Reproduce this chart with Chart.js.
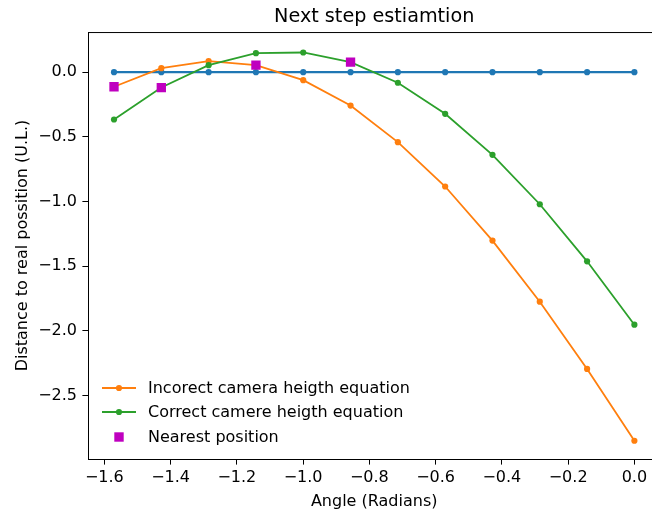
<!DOCTYPE html>
<html>
<head>
<meta charset="utf-8">
<script src="https://cdn.jsdelivr.net/npm/chart.js@4/dist/chart.umd.min.js"></script>
<style>
  html, body { margin: 0; padding: 0; background: #fff; overflow: hidden; }
  canvas { display: block; }
</style>
</head>
<body>
<canvas id="chart" width="667" height="514"></canvas>
<script>
// angles (radians), 12 samples between -pi/2 and 0
const angles = [-1.5708, -1.4280, -1.2852, -1.1424, -0.9996, -0.8568, -0.7140, -0.5712, -0.4284, -0.2856, -0.1428, 0.0];
const reference = [0, 0, 0, 0, 0, 0, 0, 0, 0, 0, 0, 0];
const incorrect = [-0.113, 0.031, 0.085, 0.054, -0.062, -0.258, -0.541, -0.884, -1.302, -1.774, -2.294, -2.849];
const correct = [-0.366, -0.119, 0.054, 0.147, 0.152, 0.077, -0.082, -0.322, -0.639, -1.021, -1.462, -1.952];
const nearestX = [-1.5708, -1.4280, -1.1424, -0.8568];
const nearestY = [-0.113, -0.119, 0.054, 0.077];
const xTicks = [-1.6, -1.4, -1.2, -1.0, -0.8, -0.6, -0.4, -0.2, 0.0];
const yTicks = [0.0, -0.5, -1.0, -1.5, -2.0, -2.5];

const FONT = "'DejaVu Sans', sans-serif";
const FS = 16;
Chart.defaults.color = "#000";
Chart.defaults.font.family = FONT;

function pts(xs, ys) {
  return xs.map((x, i) => ({ x: x, y: ys[i] }));
}

function fmt(v) {
  return v.toFixed(1).replace("-", "\u2212");
}

// draws the box round the axes
const frame = {
  id: "frame",
  afterDraw(chart) {
    const { ctx, chartArea: a } = chart;
    ctx.save();
    ctx.strokeStyle = "#000";
    ctx.lineWidth = 1;
    ctx.strokeRect(a.left + 0.5, a.top + 0.5, a.right - a.left, a.bottom - a.top);
    ctx.restore();
  },
};

// matplotlib style legend in lower left corner
const innerLegend = {
  id: "innerLegend",
  afterDraw(chart) {
    const { ctx, chartArea: a } = chart;
    const items = chart.data.datasets.filter((d) => d.label).reverse();
    const rows = [a.bottom - 71, a.bottom - 47, a.bottom - 22];
    ctx.save();
    ctx.font = FS + "px " + FONT;
    ctx.textBaseline = "middle";
    items.forEach((d, i) => {
      const y = rows[i];
      const x0 = a.left + 14;
      const x1 = a.left + 48;
      const mx = (x0 + x1) / 2;
      if (d.showLine !== false) {
        ctx.strokeStyle = d.borderColor;
        ctx.lineWidth = d.borderWidth;
        ctx.beginPath();
        ctx.moveTo(x0, y);
        ctx.lineTo(x1, y);
        ctx.stroke();
      }
      ctx.fillStyle = d.pointBackgroundColor;
      if (d.pointStyle === "rect") {
        const s = 4.7;
        ctx.fillRect(mx - s, y - s, 2 * s, 2 * s);
      } else {
        ctx.beginPath();
        ctx.arc(mx, y, d.pointRadius, 0, 2 * Math.PI);
        ctx.fill();
      }
      ctx.fillStyle = "#000";
      ctx.fillText(d.label, a.left + 60, y + 1);
    });
    ctx.restore();
  },
};

new Chart(document.getElementById("chart"), {
  type: "line",
  data: {
    datasets: [
      {
        label: "Nearest position",
        data: pts(nearestX, nearestY),
        showLine: false,
        pointStyle: "rect",
        pointRadius: 6.6,
        pointBorderWidth: 0,
        pointBackgroundColor: "#bf00bf",
        borderColor: "#bf00bf",
        order: 0,
      },
      {
        label: "Correct camere heigth equation",
        data: pts(angles, correct),
        borderColor: "#2ca02c",
        borderWidth: 1.8,
        pointRadius: 3.1,
        pointBorderWidth: 0,
        pointBackgroundColor: "#2ca02c",
        order: 1,
      },
      {
        label: "Incorect camera heigth equation",
        data: pts(angles, incorrect),
        borderColor: "#ff7f0e",
        borderWidth: 1.8,
        pointRadius: 3.1,
        pointBorderWidth: 0,
        pointBackgroundColor: "#ff7f0e",
        order: 2,
      },
      {
        label: "",
        data: pts(angles, reference),
        borderColor: "#1f77b4",
        borderWidth: 2.2,
        pointRadius: 3.1,
        pointBorderWidth: 0,
        pointBackgroundColor: "#1f77b4",
        order: 3,
      },
    ],
  },
  options: {
    responsive: false,
    animation: false,
    layout: { padding: 0 },
    plugins: {
      legend: { display: false },
      tooltip: { enabled: false },
      title: {
        display: true,
        text: "Next step estiamtion",
        fullSize: false,
        color: "#000",
        font: { size: 19.2, weight: "normal", family: FONT },
        padding: { top: 5.5, bottom: 3.5 },
      },
    },
    scales: {
      x: {
        type: "linear",
        min: -1.6493,
        max: 0.0785,
        afterFit: (s) => { s.height = 55; },
        afterBuildTicks: (s) => { s.ticks = xTicks.map((v) => ({ value: v })); },
        grid: { drawOnChartArea: false, drawTicks: true, tickLength: 5.6, color: "#000", tickWidth: 1 },
        border: { display: true, color: "#000", width: 1 },
        ticks: { padding: 4, font: { size: FS }, callback: (v) => fmt(v), maxRotation: 0 },
        title: { display: true, text: "Angle (Radians)", font: { size: FS }, padding: { top: 0, bottom: 2.4 } },
      },
      y: {
        type: "linear",
        min: -2.99,
        max: 0.31,
        afterFit: (s) => { s.width = 88; },
        afterBuildTicks: (s) => { s.ticks = yTicks.map((v) => ({ value: v })); },
        grid: { drawOnChartArea: false, drawTicks: true, tickLength: 5.6, color: "#000", tickWidth: 1 },
        border: { display: true, color: "#000", width: 1 },
        ticks: { padding: 5.4, font: { size: FS }, callback: (v) => fmt(v) },
        title: { display: true, text: "Distance to real possition (U.L.)", font: { size: FS }, padding: { top: 12.9, bottom: 0 } },
      },
    },
  },
  plugins: [frame, innerLegend],
});
</script>
</body>
</html>
